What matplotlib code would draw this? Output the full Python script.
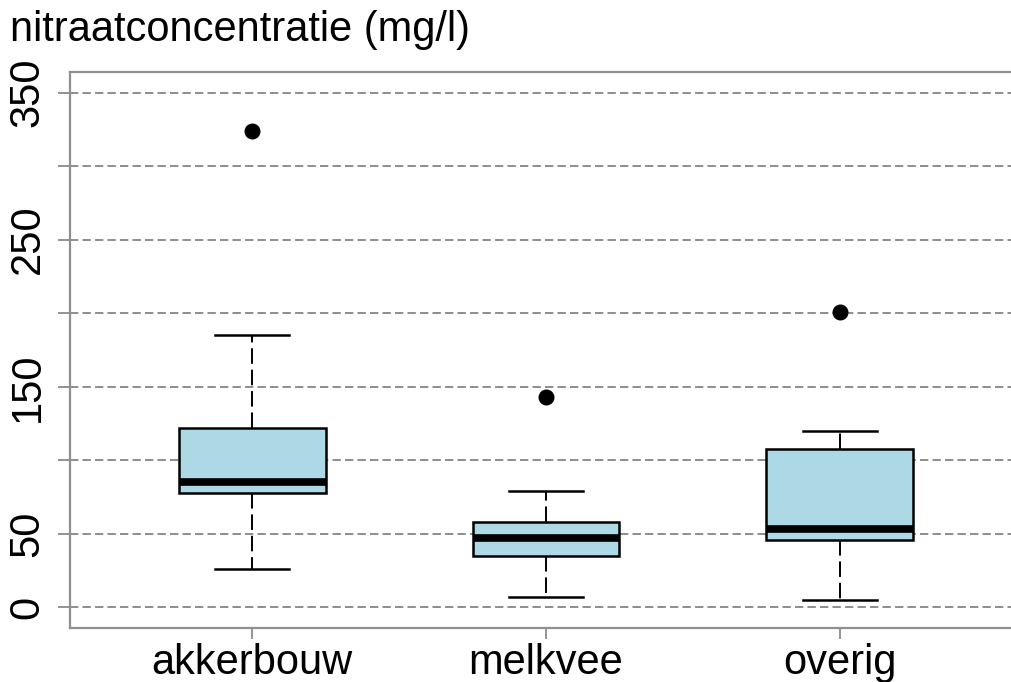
import matplotlib
matplotlib.use("Agg")
import matplotlib.pyplot as plt

plt.rcParams["font.family"] = ["Liberation Sans", "DejaVu Sans"]

# five-number summaries (mg/l)
categories = ["akkerbouw", "melkvee", "overig"]
whisker_low = [26, 7, 5]
q1 = [78, 35, 46]
median = [85, 47, 53]
q3 = [122, 58, 108]
whisker_high = [185, 79, 120]
outliers = [[324], [143], [201]]

grid_lines = [0, 50, 100, 150, 200, 250, 300, 350]
labelled_ticks = [0, 50, 150, 250, 350]

stats = []
for i, name in enumerate(categories):
    stats.append({"label": name, "whislo": whisker_low[i], "q1": q1[i], "med": median[i],
                  "q3": q3[i], "whishi": whisker_high[i], "fliers": outliers[i]})

fig = plt.figure(figsize=(10.11, 6.82), dpi=100)
ax = fig.add_axes([70 / 1011, 54 / 682, 952 / 1011, 556 / 682])

for g in grid_lines:
    ax.axhline(g, color="#7a7a7a", lw=1.2, ls=(0, (5, 2.5)), zorder=0)

ax.bxp(stats, positions=[1, 2, 3], widths=0.5, patch_artist=True,
       boxprops=dict(facecolor="#ADD8E6", edgecolor="black", lw=1.8),
       medianprops=dict(color="black", lw=5.5, solid_capstyle="butt"),
       whiskerprops=dict(color="black", lw=1.4, ls=(0, (8, 3))),
       capprops=dict(color="black", lw=1.8), capwidths=0.25,
       flierprops=dict(marker="o", markerfacecolor="black", markeredgecolor="black",
                       markersize=10.5))

ax.set_xlim(0.38, 3.62)
ax.set_ylim(-14, 364)
ax.set_yticks(grid_lines)
ax.set_yticklabels([str(v) if v in labelled_ticks else "" for v in grid_lines],
                   rotation=90, va="center", fontsize=30)
ax.set_xticks([1, 2, 3])
ax.set_xticklabels(categories, fontsize=30)
ax.tick_params(axis="y", length=9, width=1.2, color="#808080", pad=7)
ax.tick_params(axis="x", length=8, width=1.2, color="#808080", pad=3)
for side in ["left", "top", "bottom", "right"]:
    ax.spines[side].set_color("#909090")
    ax.spines[side].set_linewidth(1.6)

fig.text(10 / 1011, 1 - 10 / 682, "nitraatconcentratie (mg/l)", fontsize=30,
         ha="left", va="top")

fig.savefig("out.png", dpi=100)
